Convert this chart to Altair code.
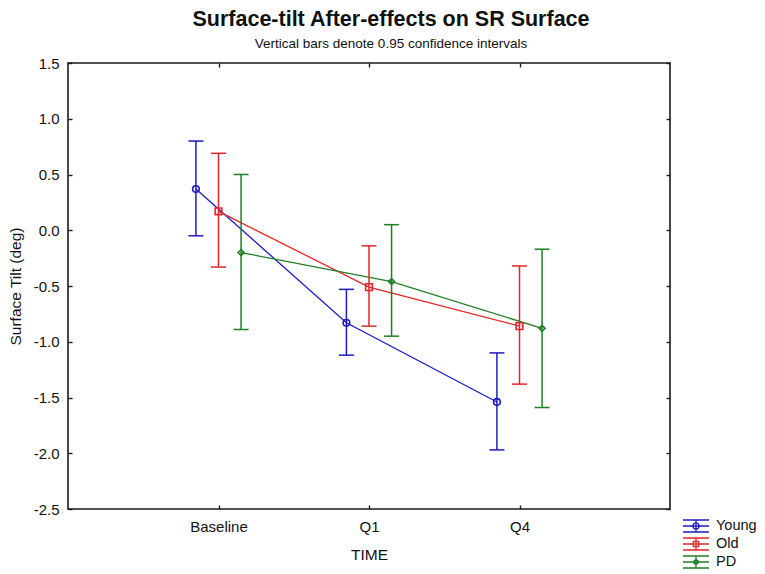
import json
import altair as alt
import pandas as pd

# ---- data ----
times = ["Baseline", "Q1", "Q4"]
groups = ["Young", "Old", "PD"]

young_mean = [0.37, -0.83, -1.54]
young_low = [-0.05, -1.12, -1.97]
young_high = [0.80, -0.53, -1.10]

old_mean = [0.17, -0.51, -0.86]
old_low = [-0.33, -0.86, -1.38]
old_high = [0.69, -0.14, -0.32]

pd_mean = [-0.20, -0.46, -0.88]
pd_low = [-0.89, -0.95, -1.59]
pd_high = [0.50, 0.05, -0.17]

y_ticks = [-2.5, -2.0, -1.5, -1.0, -0.5, 0.0, 0.5, 1.0, 1.5]

# ---- styles ----
colors = ["#1c1cc4", "#e3262a", "#1f7f24"]
plot_shapes = ["circle", "square", "diamond"]
plot_sizes = [44, 45, 36]

bars = "M-1.6,-0.74H1.6M-1.6,0H1.6M-1.6,0.74H1.6M0,-0.74V0.74"
circ = "M0.38,0A0.38,0.38 0 1 1 -0.38,0A0.38,0.38 0 1 1 0.38,0Z"
sq = "M-0.33,-0.33H0.33V0.33H-0.33Z"
dia = "M0,-0.34L0.4,0L0,0.34L-0.4,0Z"
legend_shapes = [bars + circ, bars + sq, bars + dia]

FONT = "Liberation Sans, Arial, sans-serif"

series = {
    "Young": (young_mean, young_low, young_high),
    "Old": (old_mean, old_low, old_high),
    "PD": (pd_mean, pd_low, pd_high),
}
rows = []
for g, (m, lo, hi) in series.items():
    for t, mv, lv, hv in zip(times, m, lo, hi):
        rows.append({"group": g, "time": t, "mean": mv, "low": lv, "high": hv})
df = pd.DataFrame(rows)

xpos_expr = (
    f"indexof({json.dumps(times)}, datum.time) + 1 + "
    f"(indexof({json.dumps(groups)}, datum.group) - 1) * 0.15"
)

xscale = alt.Scale(domain=[0, 4], nice=False, zero=False)
yscale = alt.Scale(domain=[-2.5, 1.5], nice=False, zero=False)
cscale = alt.Scale(domain=groups, range=colors)

axis_common = dict(
    domain=False, grid=False, ticks=True, tickSize=4, offset=-4,
    tickColor="#1a1a1a", tickWidth=1.4,
    labelFont=FONT, labelFontSize=15, labelColor="#111111",
    titleFont=FONT, titleFontSize=15.5, titleColor="#111111",
    titleFontWeight="normal",
)

x_axis = alt.Axis(
    values=[1, 2, 3],
    labelExpr=f"{json.dumps([''] + times)}[datum.value]",
    labelPadding=10.5, titlePadding=13, **axis_common,
)
y_axis = alt.Axis(
    values=y_ticks,
    labelExpr="replace(format(datum.value, '.1f'), '\u2212', '-')",
    labelPadding=9, titlePadding=10, **axis_common,
)
frame_common = dict(
    domain=False, grid=False, ticks=True, tickSize=4, offset=-4,
    tickColor="#1a1a1a", tickWidth=1.4, labels=False, title=None,
)
x_frame = alt.Axis(values=[1, 2, 3], orient="top", **frame_common)
y_frame = alt.Axis(values=y_ticks, orient="right", **frame_common)

legend = alt.Legend(
    title=None, orient="none", legendX=619, legendY=454,
    symbolSize=264, symbolStrokeWidth=1.3, labelOffset=11,
    labelFont=FONT, labelFontSize=14.5, labelColor="#111111",
    rowPadding=-6, padding=0,
)

base = alt.Chart(df).transform_calculate(xpos=xpos_expr)

xe = alt.X("xpos:Q", scale=xscale, axis=None)
ce = alt.Color("group:N", scale=cscale, legend=legend)

lines = base.mark_line(strokeWidth=1.3).encode(
    x=alt.X("xpos:Q", scale=xscale, axis=x_axis, title="TIME"),
    y=alt.Y("mean:Q", scale=yscale, axis=y_axis, title="Surface Tilt (deg)"),
    color=ce,
    detail="group:N",
)

rules = base.mark_rule(strokeWidth=1.5).encode(
    x=xe,
    y=alt.Y("low:Q", scale=yscale, axis=None),
    y2="high:Q",
    color=ce,
)

cap_lo = base.mark_point(shape="M-1,0H1", size=225, filled=False, strokeWidth=1.5, opacity=1).encode(
    x=xe, y=alt.Y("low:Q", scale=yscale, axis=None), color=ce,
)
cap_hi = base.mark_point(shape="M-1,0H1", size=225, filled=False, strokeWidth=1.5, opacity=1).encode(
    x=xe, y=alt.Y("high:Q", scale=yscale, axis=None), color=ce,
)

markers = []
for g, shp, sz in zip(groups, plot_shapes, plot_sizes):
    markers.append(
        base.transform_filter(alt.datum.group == g)
        .mark_point(shape=shp, size=sz, filled=False, strokeWidth=1.6, opacity=1)
        .encode(x=xe, y=alt.Y("mean:Q", scale=yscale, axis=None), color=ce)
    )

legend_layer = (
    base.transform_filter("false")
    .mark_point(filled=False, opacity=1)
    .encode(
        x=alt.X("xpos:Q", scale=xscale, axis=x_frame),
        y=alt.Y("mean:Q", scale=yscale, axis=y_frame),
        color=ce,
        shape=alt.Shape("group:N", scale=alt.Scale(domain=groups, range=legend_shapes), legend=legend),
    )
)

chart = (
    alt.layer(legend_layer, lines, rules, cap_lo, cap_hi, *markers)
    .resolve_axis(x="independent", y="independent")
    .properties(
        width=602,
        height=446,
        padding={"left": 0, "top": 1, "right": 0, "bottom": 0},
        title=alt.TitleParams(
            text="Surface-tilt After-effects on SR Surface",
            subtitle="Vertical bars denote 0.95 confidence intervals",
            font=FONT, fontSize=21.5, fontWeight="bold", color="#111111",
            subtitleFont=FONT, subtitleFontSize=13.5, subtitleColor="#111111",
            subtitlePadding=6, offset=6, anchor="middle", dx=22,
        ),
    )
    .configure_view(stroke="#1a1a1a", strokeWidth=1.6)
)

chart.save("out.html", embed_options={"renderer": "svg", "actions": False})
